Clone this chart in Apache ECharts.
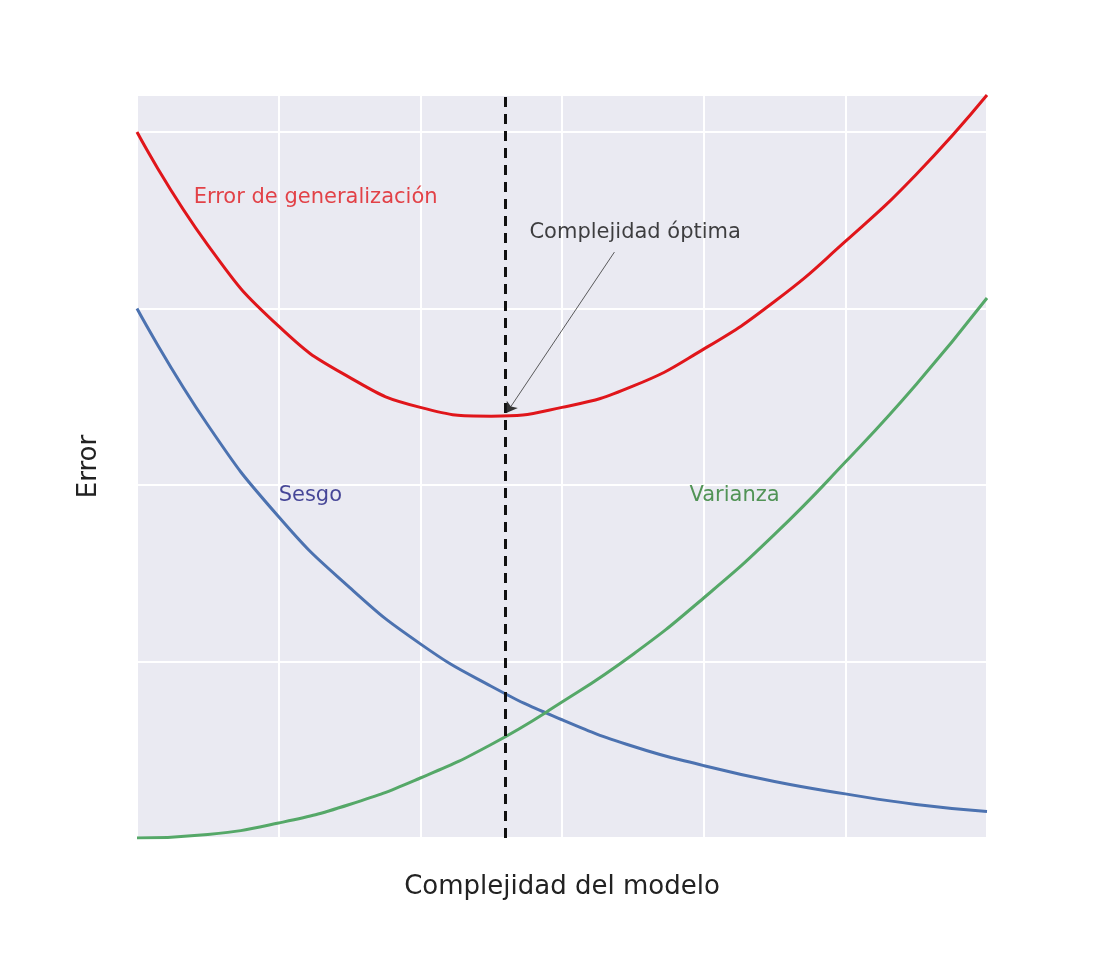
<!DOCTYPE html>
<html lang="es">
  <head>
    <meta charset="UTF-8" />
    <title>Sesgo y varianza</title>
    <script src="https://cdn.jsdelivr.net/npm/echarts@6/dist/echarts.min.js"></script>
    <style>
      body { margin: 0; background: #fff; }
      .echarts { width: 1097px; height: 960px; }
    </style>
  </head>
  <body>
    <div class="echarts"></div>
    <script>
      // valores
      const xs = [0, 0.5, 1, 1.5, 2, 2.5, 3, 3.5, 4, 4.5, 5, 5.5, 6]
      const sesgo = [3.00, 2.34, 1.82, 1.42, 1.10, 0.86, 0.67, 0.52, 0.41, 0.32, 0.25, 0.19, 0.15]
      const varianza = [0, 0.02, 0.085, 0.19, 0.34, 0.53, 0.77, 1.04, 1.36, 1.72, 2.13, 2.57, 3.06]
      const errorGen = [4.00, 3.36, 2.90, 2.61, 2.44, 2.39, 2.44, 2.56, 2.77, 3.04, 3.38, 3.76, 4.21]
      const optimo = 2.6
      const labels = [
        { text: 'Error de generalización', x: 0.4, y: 3.63, color: '#e0161b' },
        { text: 'Sesgo', x: 1.0, y: 1.94, color: '#1c1c80' },
        { text: 'Varianza', x: 3.9, y: 1.94, color: '#2a7d2e' },
        { text: 'Complejidad óptima', x: 2.77, y: 3.43, color: '#111' }
      ]

      const pairs = arr => xs.map((x, i) => [x, arr[i]])
      const font = 'DejaVu Sans'

      const chart = echarts.init(document.querySelector('.echarts'))
      chart.setOption({
        animation: false,
        textStyle: { fontFamily: font },
        grid: {
          left: 137, right: 110, top: 95, bottom: 122,
          show: true, backgroundColor: '#eaeaf2', borderWidth: 0
        },
        xAxis: {
          type: 'value', min: 0, max: 6, interval: 1,
          name: 'Complejidad del modelo', nameLocation: 'middle', nameGap: 36,
          nameTextStyle: { fontSize: 26, color: '#222', fontFamily: font },
          axisLine: { show: false }, axisTick: { show: false }, axisLabel: { show: false },
          splitLine: { lineStyle: { color: '#fff', width: 2 } }
        },
        yAxis: {
          type: 'value', min: 0, max: 4.21, interval: 1,
          name: 'Error', nameLocation: 'middle', nameGap: 35,
          nameTextStyle: { fontSize: 26, color: '#222', fontFamily: font },
          axisLine: { show: false }, axisTick: { show: false }, axisLabel: { show: false },
          splitLine: { lineStyle: { color: '#fff', width: 2 } }
        },
        series: [
          {
            name: 'Error de generalización', type: 'line', smooth: true, symbol: 'none',
            data: pairs(errorGen), lineStyle: { color: '#e0161b', width: 3 }
          },
          {
            name: 'Sesgo', type: 'line', smooth: true, symbol: 'none',
            data: pairs(sesgo), lineStyle: { color: '#4c72b0', width: 3 }
          },
          {
            name: 'Varianza', type: 'line', smooth: true, symbol: 'none',
            data: pairs(varianza), lineStyle: { color: '#55a868', width: 3 },
            markLine: {
              silent: true, symbol: 'none', label: { show: false },
              lineStyle: { color: '#111', type: [10, 7], width: 3 },
              data: [{ xAxis: optimo }]
            }
          },
          {
            // flecha de la anotación
            type: 'line', symbol: 'none', data: [],
            markLine: {
              silent: true, symbol: ['none', 'arrow'], symbolSize: 10, label: { show: false },
              lineStyle: { color: '#333', width: 0.8, type: 'solid' },
              data: [[{ coord: [3.37, 3.32] }, { coord: [optimo + 0.01, 2.41] }]]
            }
          },
          {
            type: 'scatter', symbolSize: 0, silent: true,
            data: labels.map(l => ({
              value: [l.x, l.y],
              label: {
                show: true, formatter: l.text, position: 'right', distance: 0,
                color: l.color, fontSize: 21, fontFamily: font
              }
            }))
          }
        ]
      })
    </script>
  </body>
</html>
